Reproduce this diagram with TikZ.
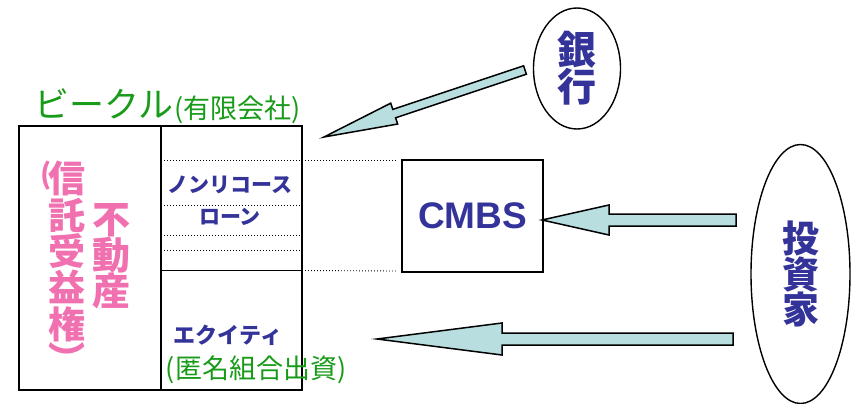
\documentclass[tikz,border=0pt]{standalone}
\usepackage{fontspec}
\setmainfont{Liberation Sans}
\newfontfamily\jp{Noto Sans CJK JP}
\usetikzlibrary{calc,shapes.geometric}
\definecolor{jblue}{RGB}{51,51,153}
\definecolor{jgreen}{RGB}{24,155,24}
\definecolor{jpink}{RGB}{240,112,176}
\definecolor{jteal}{RGB}{184,222,224}
\newcommand{\fatarrow}[5]{%
  \draw[fatarrowstyle] let \p1=(#1), \p2=(#2),
    \n1={atan2(\y2-\y1,\x2-\x1)}, \n2={veclen(\x2-\x1,\y2-\y1)} in
    [shift={(\p1)}, rotate=\n1]
    (0,#3) -- ({\n2-#5},#3) -- ({\n2-#5},#4) -- (\n2,0) -- ({\n2-#5},-#4)
    -- ({\n2-#5},-#3) -- (0,-#3) -- cycle;}
\newcommand{\jpsize}[2]{\fontsize{#1}{#2}\selectfont\lineskiplimit=-200pt\relax}
\begin{document}
\begin{tikzpicture}[x=1pt,y=1pt,
  boxline/.style={line width=1.8pt, black},
  dotline/.style={line width=0.9pt, dash pattern=on 0.9pt off 2.1pt, black},
  fatarrowstyle/.style={draw=black, line width=1.5pt, fill=jteal, line join=miter},
  oval/.style={draw=black, line width=1.4pt, ellipse, inner sep=0pt},
  bluetxt/.style={text=jblue, inner sep=0pt, align=center},
  greentxt/.style={text=jgreen, inner sep=0pt},
  pinktxt/.style={text=jpink, inner sep=0pt, align=center}]
\useasboundingbox (0,0) rectangle (862,-404);

% vehicle box
\coordinate (vtl) at (19,-126);
\coordinate (vbr) at (302,-390);
\coordinate (vmt) at (161,-126);
\coordinate (vmb) at (161,-390);
\coordinate (eqL) at (161,-270.5);
\coordinate (eqR) at (302,-270.5);
\draw[boxline] (vtl) rectangle (vbr);
\draw[boxline] (vmt) -- (vmb);
\draw[boxline] (eqL) -- (eqR);

% dotted lines
\coordinate (d1L) at (161,-160);  \coordinate (d1R) at (396,-160);
\coordinate (d2L) at (161,-205);  \coordinate (d2R) at (302,-205);
\coordinate (d3L) at (161,-235);  \coordinate (d3R) at (302,-235);
\coordinate (d4L) at (161,-250);  \coordinate (d4R) at (302,-250);
\coordinate (d5R) at (396,-271);
\draw[dotline] (d1L) -- (d1R);
\draw[dotline] (d2L) -- (d2R);
\draw[dotline] (d3L) -- (d3R);
\draw[dotline] (d4L) -- (d4R);
\draw[dotline] (eqR) -- (d5R);

% CMBS box
\node[draw=black, line width=1.8pt, minimum width=141pt, minimum height=112pt,
      inner sep=0pt, text=jblue, font=\bfseries\fontsize{37}{40}\selectfont]
      (cmbs) at (472.5,-216) {CMBS};

% ovals
\node[oval, minimum width=87pt, minimum height=121pt, text=jblue,
      font=\jp\bfseries\jpsize{39}{37}, align=center]
      (bank) at (577,-68.5) {銀\\行};
\node[oval, minimum width=99pt, minimum height=259pt, text=jblue,
      font=\jp\bfseries\jpsize{37}{35.5}, align=center]
      (inv) at (800.5,-274) {投\\資\\家};

% labels
\node[greentxt, font=\jp\jpsize{35}{36}] (vname) at (104,-104) {ビークル};
\node[greentxt, font=\jp\jpsize{27}{28}] (vsub) at (237.5,-110) {(有限会社)};
\node[bluetxt, font=\jp\bfseries\jpsize{21}{32}] (nrl) at (230,-201) {ノンリコース\\ローン};
\node[bluetxt, font=\jp\bfseries\jpsize{22}{24}] (eq) at (228,-335) {エクイティ};
\node[greentxt, font=\jp\jpsize{27}{28}] (eqsub) at (256,-370) {(匿名組合出資)};
\node[pinktxt, font=\jp\bfseries\jpsize{38}{36}] (fudo) at (111,-256.5) {不\\動\\産};
\node[pinktxt, font=\jp\bfseries\jpsize{37}{36.4}, anchor=north] (shin) at (67,-161) {信\\託\\受\\益\\権\\[-1pt]︶};
\node[pinktxt, font=\jp\bfseries\jpsize{28}{30}] (lpar) at (46,-176) {(};

% block arrows
\coordinate (bankT) at (525,-70);
\coordinate (bankH) at (324,-137);
\coordinate (cmbsT) at (736,-220);
\coordinate (cmbsH) at (542,-220);
\coordinate (eqT) at (733,-339);
\coordinate (eqH) at (377,-339);
\fatarrow{bankT}{bankH}{4.4}{11}{74}
\fatarrow{cmbsT}{cmbsH}{6}{15}{67}
\fatarrow{eqT}{eqH}{6}{16}{125}
\end{tikzpicture}
\end{document}
